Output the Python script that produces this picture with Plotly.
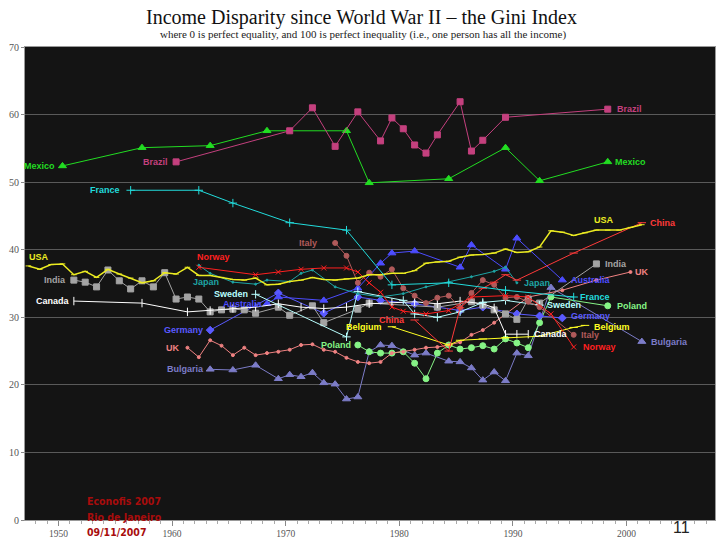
import plotly.graph_objects as go

# ---------------- data (Gini index) ----------------
mexico_years = [1950, 1957, 1963, 1968, 1975, 1977, 1984, 1989, 1992, 1998]
mexico_gini = [52.4, 55.1, 55.4, 57.6, 57.6, 49.9, 50.5, 55.1, 50.2, 53.0]

brazil_years = [1960, 1970, 1972, 1974, 1976, 1978, 1979, 1980, 1981, 1982, 1983, 1985, 1986, 1987, 1989, 1998]
brazil_gini = [53.0, 57.6, 61.0, 55.3, 60.4, 56.1, 59.5, 57.9, 55.5, 54.3, 57.0, 61.9, 54.6, 56.2, 59.6, 60.8]

france_years = [1956, 1962, 1965, 1970, 1975, 1979, 1984, 1989, 1995]
france_gini = [48.8, 48.8, 46.9, 44.0, 42.9, 34.8, 35.1, 34.0, 33.0]

usa_years = list(range(1947, 2002))
usa_gini = [37.6, 37.1, 37.8, 37.9, 36.3, 36.8, 35.9, 37.1, 36.4, 35.8,
            35.1, 35.4, 36.6, 36.4, 37.4, 36.2, 36.2, 35.9, 35.6, 35.5,
            35.8, 34.8, 34.9, 35.3, 35.5, 35.9, 35.6, 35.5, 35.7, 35.8,
            36.3, 36.3, 36.5, 36.5, 36.9, 38.0, 38.2, 38.3, 38.9, 39.2,
            39.3, 39.5, 40.1, 39.6, 39.7, 40.4, 42.8, 42.6, 42.1, 42.5,
            42.9, 42.9, 42.9, 43.3, 43.7]

china_years = [1981, 1984, 1985, 1987, 1988, 1989, 1990, 1995, 2001]
china_gini = [29.6, 25.0, 31.4, 34.3, 35.2, 36.3, 35.5, 39.5, 44.0]

india_years = [1951, 1952, 1953, 1954, 1955, 1956, 1957, 1958, 1959, 1960, 1961, 1962, 1963, 1964,
               1965, 1966, 1967, 1969, 1970, 1972, 1973, 1976, 1977, 1983, 1986, 1987, 1988, 1989,
               1990, 1991, 1992, 1997]
india_gini = [35.5, 35.2, 34.5, 37.0, 35.4, 34.2, 35.4, 34.5, 36.6, 32.7, 33.0, 32.7, 30.8, 31.1,
              31.2, 31.1, 30.6, 31.5, 30.3, 31.7, 29.2, 31.2, 32.1, 31.5, 32.3, 31.8, 31.1, 30.5,
              29.7, 32.7, 32.1, 37.9]

uk_years = list(range(1961, 1989)) + [1991, 1994, 1997, 2000]
uk_gini = [25.5, 24.1, 26.6, 25.8, 24.4, 25.5, 24.4,
           24.7, 24.9, 25.2, 25.9, 26.0, 25.2, 24.9, 24.0, 23.4, 23.2, 23.4, 24.7, 24.9, 25.2,
           25.5, 25.6, 25.9, 26.3, 27.4, 28.1, 29.2,
           33.0, 34.0, 35.5, 36.7]

norway_years = [1962, 1967, 1969, 1971, 1973, 1975, 1976, 1977, 1978, 1979, 1980, 1982, 1984, 1986, 1989, 1991, 1993, 1995]
norway_gini = [37.4, 36.3, 36.7, 37.1, 37.3, 37.3, 36.7, 35.1, 33.7, 31.5, 30.9, 30.5, 31.0, 33.0, 33.2, 33.0, 30.5, 25.6]

italy_years = [1974, 1975, 1976, 1977, 1978, 1979, 1980, 1981, 1982, 1983, 1984, 1985, 1986, 1987, 1988, 1989, 1990, 1991, 1992, 1995]
italy_gini = [41.0, 39.1, 35.1, 36.6, 36.0, 37.1, 34.3, 33.2, 32.1, 32.9, 33.2, 31.4, 33.6, 35.5, 34.8, 32.9, 33.0, 32.3, 31.5, 27.4]

japan_years = [1962, 1963, 1965, 1967, 1968, 1970, 1971, 1972, 1974, 1976, 1978, 1980, 1982, 1984, 1986, 1988, 1989, 1990]
japan_gini = [37.7, 36.5, 35.2, 34.9, 35.5, 35.3, 36.5, 37.0, 34.5, 33.5, 33.0, 33.5, 34.5, 35.2, 36.0, 36.8, 37.4, 35.1]

sweden_years = [1967, 1975, 1976, 1980, 1981, 1983, 1985, 1987, 1989, 1992]
sweden_gini = [33.4, 27.1, 33.8, 32.5, 30.5, 30.0, 30.8, 32.2, 32.5, 31.8]

canada_years = [1951, 1957, 1961, 1963, 1965, 1967, 1969, 1971, 1973, 1975, 1977, 1979, 1981, 1983, 1985, 1987, 1988, 1989, 1990, 1991]
canada_gini = [32.4, 32.1, 30.8, 31.0, 31.3, 31.5, 32.0, 31.5, 31.3, 31.5, 32.0, 32.2, 32.3, 32.0, 32.4, 32.0, 31.4, 27.5, 27.5, 27.5]

germany_years = [1963, 1969, 1973, 1976, 1978, 1981, 1983, 1985, 1987, 1990, 1992, 1994]
germany_gini = [28.1, 33.6, 30.6, 33.0, 32.5, 32.0, 31.5, 31.0, 31.5, 30.5, 30.2, 29.9]

australia_years = [1968, 1969, 1973, 1976, 1978, 1979, 1981, 1985, 1986, 1989, 1990, 1994]
australia_gini = [32.0, 33.0, 32.5, 34.3, 38.0, 39.5, 39.8, 37.4, 40.7, 37.1, 41.7, 35.5]

belgium_years = [1979, 1984, 1985, 1987, 1989, 1992, 1995, 1996]
belgium_gini = [28.6, 25.9, 26.6, 26.8, 27.0, 27.2, 28.5, 28.8]

poland_years = list(range(1976, 1994)) + [1998]
poland_gini = [25.9, 24.9, 24.7, 24.7, 24.9, 23.2, 20.9, 24.7, 25.9, 25.3,
               25.5, 25.8, 25.3, 26.8, 26.2, 25.5, 29.2, 33.0, 31.7]

bulgaria_years = [1963, 1965, 1967, 1969, 1970, 1971, 1972, 1973, 1974, 1975, 1976, 1977, 1978,
                  1979, 1981, 1982, 1984, 1985, 1986, 1987, 1988, 1989, 1990, 1991, 1993, 2001]
bulgaria_gini = [22.3, 22.2, 22.9, 20.9, 21.5, 21.2, 21.8, 20.3, 20.1, 17.9, 18.2, 24.9, 25.9,
                 25.8, 24.4, 24.7, 23.5, 23.4, 22.5, 20.7, 21.9, 20.6, 24.7, 24.3, 34.4, 26.4]

decade_labels = ["1950", "1960", "1970", "1980", "1990", "2000"]
y_ticks = [0, 10, 20, 30, 40, 50, 60, 70]

# ---------------- styles ----------------
# name, years, values, colour, symbol, marker size, line width,
# (first-label xanchor, xshift, yshift), (last-label xanchor, xshift, yshift)
series = [
    ("Bulgaria", bulgaria_years, bulgaria_gini, "#7c7cc8", "triangle-up", 7, 1,
     ("right", -4, 0), ("left", 7, 0)),
    ("Poland", poland_years, poland_gini, "#86f486", "circle", 6, 1,
     ("right", -5, 0), ("left", 7, 0)),
    ("UK", uk_years, uk_gini, "#f08282", "circle", 3, 1,
     ("right", -5, 0), ("left", 3, 0)),
    ("Germany", germany_years, germany_gini, "#5a5aff", "diamond", 6, 1,
     ("right", -5, 0), ("left", 7, 2)),
    ("Australia", australia_years, australia_gini, "#4c4cff", "triangle-up", 7, 1,
     ("right", -2, 0), ("left", 7, 0)),
    ("India", india_years, india_gini, "#a4a4a4", "square", 6, 1,
     ("right", -6, 0), ("left", 7, 0)),
    ("Canada", canada_years, canada_gini, "#ffffff", "line-ns-open", 6, 1,
     ("right", -2, 0), ("left", 4, 0)),
    ("Sweden", sweden_years, sweden_gini, "#b8ffff", "cross-thin-open", 6, 1,
     ("right", -6, 0), ("left", 5, 0)),
    ("Japan", japan_years, japan_gini, "#1ea4a4", "circle", 2, 1,
     ("left", -8, -17), ("left", 5, 0)),
    ("Italy", italy_years, italy_gini, "#b05a5a", "circle", 5, 1,
     ("right", -16, 0), ("left", 5, 0)),
    ("Belgium", belgium_years, belgium_gini, "#ffff22", "line-ew-open", 6, 1,
     ("right", -8, 0), ("left", 7, -2)),
    ("Norway", norway_years, norway_gini, "#ff2020", "x-thin-open", 5, 1,
     ("left", -4, 10), ("left", 7, 0)),
    ("China", china_years, china_gini, "#ff3a3a", "line-ew-open", 6, 1,
     ("right", -8, 0), ("left", 6, 0)),
    ("USA", usa_years, usa_gini, "#ecec22", "line-ew-open", 4, 1.5,
     ("left", -1, 9), None),
    ("France", france_years, france_gini, "#22dcdc", "cross-thin-open", 6, 1,
     ("right", -9, 0), ("left", 4, 0)),
    ("Mexico", mexico_years, mexico_gini, "#22dd22", "triangle-up", 7, 1,
     ("right", -5, 0), ("left", 5, 0)),
    ("Brazil", brazil_years, brazil_gini, "#c4407e", "square", 6, 1,
     ("right", -6, 0), ("left", 7, 0)),
]

fig = go.Figure()
annotations = []
label_font = dict(family="Liberation Sans, Arial, sans-serif", size=9, weight="bold")

for name, xs, ys, col, sym, msize, lw, first_lab, last_lab in series:
    fig.add_trace(go.Scatter(
        x=xs, y=ys, mode="lines+markers", name=name,
        line=dict(color=col, width=lw),
        marker=dict(symbol=sym, size=msize, color=col,
                    line=dict(color=col, width=1)),
        showlegend=False))
    for spec, idx in ((first_lab, 0), (last_lab, -1)):
        if spec is None:
            continue
        xa, xs_, ys_ = spec
        annotations.append(dict(
            x=xs[idx], y=ys[idx], xref="x", yref="y", text=name,
            showarrow=False, xanchor=xa, yanchor="middle",
            xshift=xs_, yshift=ys_, font=dict(color=col, **label_font)))

# USA label on the right end, above the line
usa_i = usa_years.index(1998)
annotations.append(dict(x=usa_years[usa_i], y=usa_gini[usa_i], xref="x", yref="y",
                        text="USA", showarrow=False, xanchor="center", yanchor="middle",
                        xshift=-4, yshift=10, font=dict(color="#ecec22", **label_font)))

# title and subtitle
annotations.append(dict(x=0.488, y=1.062, xref="paper", yref="paper",
                        text="Income Disparity since World War II \u2013 the Gini Index",
                        showarrow=False, xanchor="center", yanchor="middle",
                        font=dict(family="Liberation Serif, Times New Roman, serif", size=20, color="#111")))
annotations.append(dict(x=0.49, y=1.026, xref="paper", yref="paper",
                        text="where 0 is perfect equality, and 100 is perfect inequality (i.e., one person has all the income)",
                        showarrow=False, xanchor="center", yanchor="middle",
                        font=dict(family="Liberation Serif, Times New Roman, serif", size=11, color="#222")))

# footer texts
foot_font = dict(family="DejaVu Sans Condensed, Liberation Sans Narrow, Arial Narrow, sans-serif",
                 size=10.5, color="#a80c0c", weight="bold")
for txt, yy in (("Econofis 2007", 0.040), ("Rio de Janeiro", 0.006), ("09/11/2007", -0.026)):
    annotations.append(dict(x=0.087, y=yy, xref="paper", yref="paper", text=txt,
                            showarrow=False, xanchor="left", yanchor="middle", font=foot_font))
annotations.append(dict(x=0.951, y=-0.015, xref="paper", yref="paper", text="11",
                        showarrow=False, xanchor="center", yanchor="middle",
                        font=dict(family="Liberation Sans, Arial, sans-serif", size=16, color="#222")))

decade_vals = [int(t) - 0.35 for t in decade_labels]
minor_vals = [y - 0.35 for y in range(1947, 2008)]

fig.update_layout(
    width=720, height=540,
    margin=dict(l=25, r=5, t=47, b=20),
    paper_bgcolor="white", plot_bgcolor="#141414",
    annotations=annotations,
    xaxis=dict(range=[1946.70, 2007.44], tickvals=decade_vals, ticktext=decade_labels,
               ticks="outside", ticklen=5, tickcolor="#888", showgrid=False, zeroline=False,
               showline=True, linecolor="#999", mirror=True, automargin=False,
               tickfont=dict(family="Liberation Serif, serif", size=9.5, color="#555"),
               minor=dict(tickvals=minor_vals, ticks="outside", ticklen=3, tickcolor="#aaa",
                          showgrid=False)),
    yaxis=dict(range=[0, 70], tickvals=y_ticks, ticks="outside", ticklen=3, tickcolor="#888",
               showgrid=True, gridcolor="#5a5a5a", gridwidth=1, zeroline=False,
               showline=True, linecolor="#999", mirror=True, automargin=False,
               tickfont=dict(family="Liberation Serif, serif", size=10, color="#555")),
)

fig.write_html("out.html", config={"displayModeBar": False},
               post_script="document.body.style.margin='0';document.body.style.overflow='hidden';")
